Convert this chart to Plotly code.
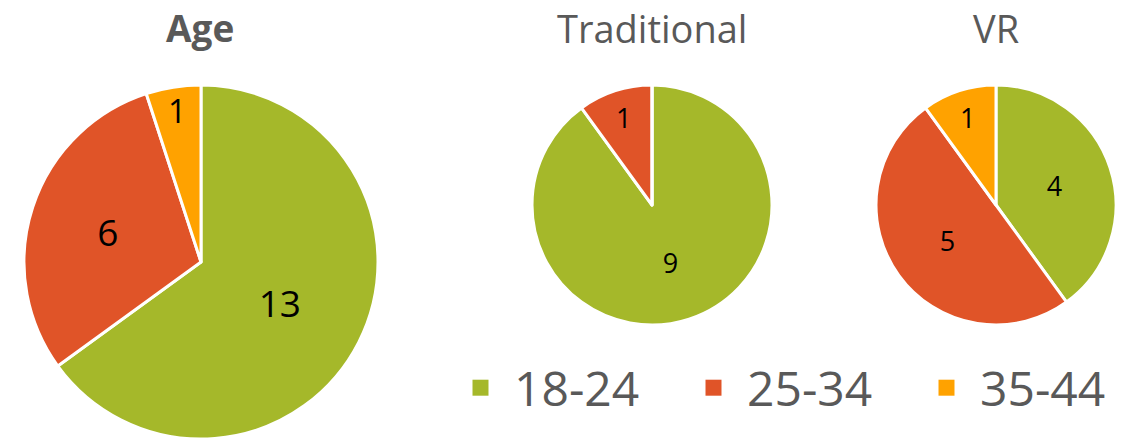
import plotly.graph_objects as go

categories = ["18-24", "25-34", "35-44"]
age_values = [13, 6, 1]
traditional_values = [9, 1, 0]
vr_values = [4, 5, 1]
titles = ["Age", "Traditional", "VR"]
colors = ["#A5B82A", "#E05428", "#FFA200"]

FONT = "Open Sans, Segoe UI, sans-serif"
W, H = 1144, 443

def px_dom_x(a, b):
    return [a / W, b / W]

def px_dom_y(top, bottom):
    return [(H - bottom) / H, (H - top) / H]

pies = [
    (age_values, px_dom_x(24, 378), px_dom_y(84, 440), 37),
    (traditional_values, px_dom_x(532, 772), px_dom_y(85, 325), 27),
    (vr_values, px_dom_x(876, 1116), px_dom_y(85, 325), 27),
]

fig = go.Figure()
for vals, dx, dy, fs in pies:
    fig.add_trace(go.Pie(
        labels=categories,
        values=vals,
        text=[str(v) if v else "" for v in vals],
        textinfo="text",
        textposition="inside",
        insidetextorientation="horizontal",
        textfont=dict(size=fs, color="black", family=FONT),
        marker=dict(colors=colors, line=dict(color="white", width=3)),
        sort=False,
        direction="clockwise",
        rotation=0,
        domain=dict(x=dx, y=dy),
        showlegend=False,
        hoverinfo="label+value",
    ))

# legend entries
for cat, col in zip(categories, colors):
    fig.add_trace(go.Scatter(
        x=[None], y=[None], mode="markers", name=cat,
        marker=dict(symbol="square", size=16, color=col),
        showlegend=True,
    ))

title_pos = [(200, True), (652, False), (996, False)]
annotations = []
for t, (cx, bold) in zip(titles, title_pos):
    annotations.append(dict(
        x=cx / W, y=1.0, xref="paper", yref="paper",
        text=f"<b>{t}</b>" if bold else t, showarrow=False,
        xanchor="center", yanchor="top",
        font=dict(size=37 if bold else 38, color="#595959", family=FONT),
    ))

fig.update_layout(
    width=W, height=H,
    margin=dict(l=0, r=0, t=0, b=0, autoexpand=False),
    paper_bgcolor="white", plot_bgcolor="white",
    xaxis=dict(visible=False), yaxis=dict(visible=False),
    annotations=annotations,
    legend=dict(
        orientation="h", x=447 / W, y=(H - 388) / H,
        xanchor="left", yanchor="middle",
        font=dict(size=48, color="#595959", family=FONT),
        itemwidth=57,
        entrywidth=161, entrywidthmode="pixels",
        bgcolor="rgba(0,0,0,0)",
    ),
    font=dict(family=FONT),
)

fig.write_html(
    "out.html",
    config={"displayModeBar": False},
    post_script="document.body.style.margin='0px';",
)
